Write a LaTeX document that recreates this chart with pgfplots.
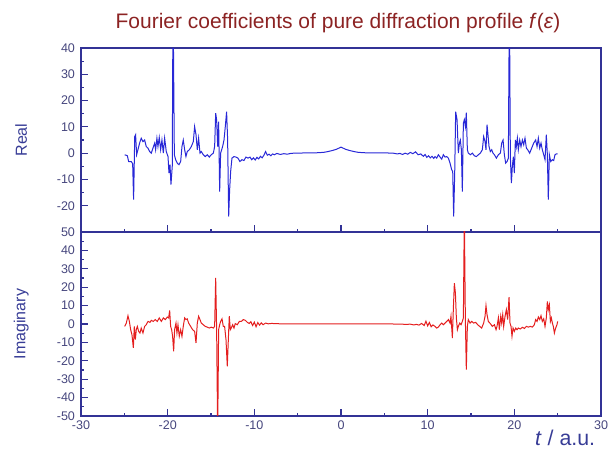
\documentclass[border=0pt]{standalone}
\usepackage{pgfplots}
\pgfplotsset{compat=1.18}
\usepackage{fontspec}
\setmainfont{Liberation Sans}
\definecolor{axcol}{RGB}{50,50,150}
\definecolor{tickcol}{RGB}{70,70,125}
\definecolor{labcol}{RGB}{55,60,150}
\definecolor{titcol}{RGB}{140,35,35}
\definecolor{bluecurve}{RGB}{40,40,215}
\definecolor{redcurve}{RGB}{228,30,30}
\begin{document}
\begin{tikzpicture}
\path[use as bounding box] (0pt,0pt) rectangle (457.5pt,345pt);
\pgfplotsset{
  panel/.style={
    scale only axis, width=390pt, height=138pt,
    xmin=-30, xmax=30,
    xtick={-30,-20,...,30}, minor x tick num=1,
    axis line style={axcol, line width=0.9pt},
    every tick/.style={axcol, line width=0.9pt},
    major tick length=5pt, minor tick length=2.6pt,
    tick align=inside,
    xtick pos=bottom, ytick pos=left,
    minor y tick num=1,
    tick label style={font=\fontsize{9.4}{11}\selectfont, text=tickcol},
    /pgf/number format/assume math mode=true,
    yticklabel style={xshift=-1pt},
    ylabel style={at={(axis description cs:-0.115,0.5)}, anchor=center, rotate=0, font=\fontsize{12}{14}\selectfont, text=labcol},
  }
}
\begin{axis}[panel, at={(60.75pt,171pt)}, anchor=south west,
  ymin=-30, ymax=40, ytick={-20,-10,...,40},
  xticklabels={},
  ylabel={Real}]
\addplot[bluecurve, line width=0.75pt] coordinates {
(-24.96,-0.6) (-24.65,-1.0) (-24.5,-3.2) (-24.2,-3.2) (-24.04,-4) (-23.93,-17.7)
(-23.8,6.3) (-23.7,7) (-23.58,-0.6) (-23.43,1.3) (-23.24,3.8) (-23.05,5.7)
(-22.85,4.4) (-22.66,5) (-22.47,2.5) (-22.27,1.9) (-22.08,0.6) (-21.89,0)
(-21.7,1.9) (-21.5,3.8) (-21.39,1.3) (-21.24,5.7) (-21.12,2.5) (-20.97,6)
(-20.81,1.3) (-20.66,5) (-20.5,0) (-20.35,5.7) (-20.16,0.6) (-19.96,-1.3)
(-19.85,-7.6) (-19.73,-4.4) (-19.62,-12) (-19.47,-5) (-19.38,60) (-19.23,-0.6)
(-19.08,-2.5) (-18.89,-3.8) (-18.7,-4.4) (-18.5,-3.2) (-18.35,2.5) (-18.2,5)
(-18.04,1.3) (-17.89,-1.3) (-17.74,0.6) (-17.5,1.3) (-17.27,2.5) (-17.04,4.4)
(-16.89,10.1) (-16.73,7) (-16.58,1.3) (-16.43,5.7) (-16.27,0) (-16.12,0.6)
(-15.89,-0.6) (-15.66,-1.3) (-15.43,-0.6) (-15.2,-1.5) (-14.97,-0.6) (-14.73,0)
(-14.58,2.5) (-14.46,15.2) (-14.35,12.7) (-14.23,2.5) (-14.12,12) (-14.0,-14.6)
(-13.89,0) (-13.77,1.3) (-13.66,2.5) (-13.5,5) (-13.35,10.1) (-13.2,15.8)
(-13.08,5) (-12.96,-24.1) (-12.85,-14) (-12.73,-6.9) (-12.58,-1.9) (-12.35,-1.3)
(-12.12,-1.5) (-11.89,-1.9) (-11.66,-3.2) (-11.43,-2.5) (-11.2,-2.8) (-10.97,-1.5)
(-10.73,-1.9) (-10.5,-1.5) (-10.3,-2.5) (-10.1,-1.8) (-9.9,-2.6) (-9.7,-1.6)
(-9.5,-2.2) (-9.3,-1.2) (-9.1,-1.8) (-8.9,-0.8) (-8.7,0.6) (-8.5,-0.8)
(-8.3,-0.4) (-8.1,-1.0) (-7.9,-0.3) (-7.7,-0.6) (-7.4,-0.1) (-7.0,-0.5)
(-6.6,-0.2) (-6.2,-0.4) (-5.8,-0.1) (-5.4,0) (-5,0) (-4,0.1) (-3,0.1)
(-2.5,0.2) (-2,0.3) (-1.5,0.6) (-1,1.0) (-0.5,1.5) (0,2.3) (0.5,1.5) (1,1.0)
(1.5,0.6) (2,0.3) (2.5,0.2) (3,0.1) (4,0.1) (5,0.1) (6,0.0) (6.5,-0.3)
(6.8,-0.1) (7.1,-0.5) (7.4,0) (7.7,-0.4) (8.0,0.3) (8.3,-0.2) (8.6,0.5)
(8.9,-0.6) (9.2,-0.3) (9.5,-1.2) (9.7,-0.5) (9.9,-1.6) (10.1,-1.0) (10.3,-1.8)
(10.5,-1.2) (10.7,-2.0)
(10.85,-1.3) (11.04,-1.9) (11.23,-0.6) (11.43,-1.5) (11.62,-2.3) (11.81,-0.6)
(12.0,-1.5) (12.2,-1.3) (12.39,-1.9) (12.58,-3.8) (12.77,-6.3) (12.89,-7)
(13.0,-24.1) (13.12,-7.6) (13.23,15.8) (13.39,12.7) (13.54,0) (13.66,3.8)
(13.77,5) (13.89,1.3) (14.0,-14.6) (14.12,11.4) (14.23,12.7) (14.35,10.1)
(14.46,15.4) (14.58,1.3) (14.69,0) (14.93,-0.6) (15.16,0) (15.39,-1)
(15.62,-1.3) (15.85,-0.6) (16.08,0) (16.31,1.3) (16.46,6.3) (16.62,4.4)
(16.73,1.3) (16.85,10.8) (16.96,7) (17.08,2.5) (17.23,0.6) (17.39,1.3)
(17.54,0) (17.7,-0.6) (17.93,-1.9) (18.16,-0.6) (18.39,0) (18.54,3.8)
(18.7,5) (18.85,-0.6) (19.0,-3.8) (19.16,-3.2) (19.31,-1.9) (19.43,60)
(19.54,-1.3) (19.66,-11.4) (19.77,-5) (19.89,-1.3) (20.0,-7.6) (20.12,5)
(20.23,2.5) (20.35,5.7) (20.46,1.3) (20.62,5) (20.77,2.5) (20.93,5)
(21.08,3.2) (21.23,5.7) (21.39,1.9) (21.54,1.3) (21.77,0) (22.0,1.9)
(22.23,3.8) (22.46,5) (22.62,2.5) (22.77,5.7) (22.93,1.9) (23.08,3.8)
(23.23,1.3) (23.39,-0.6) (23.54,-2.5) (23.69,7) (23.81,-0.6) (23.92,-17.7)
(24.04,-0.6) (24.2,-3.2) (24.39,-2.5) (24.54,-2.8) (24.69,-0.6) (24.85,-0.3)
(25.0,-0.3)
};
\end{axis}
\begin{axis}[panel, at={(60.75pt,33pt)}, anchor=south west,
  ymin=-50, ymax=50, ytick={-50,-40,...,50},
  ylabel={Imaginary},
  xlabel={\textit{t} / a.u.},
  xlabel style={at={(axis description cs:0.931,-0.117)}, anchor=center, font=\fontsize{16}{18}\selectfont, text=labcol}]
\addplot[redcurve, line width=0.75pt] coordinates {
(-24.96,-1.3) (-24.77,0.5) (-24.58,4.5) (-24.42,1.4) (-24.27,-3.1) (-24.12,-5.8)
(-23.96,-13) (-23.85,-1.3) (-23.73,-8.5) (-23.62,-3.1) (-23.5,-1.3) (-23.35,-4)
(-23.2,-4.9) (-23.05,-2.2) (-22.85,-4.9) (-22.66,-1.3) (-22.47,-0.4) (-22.27,1.4)
(-22.04,0.9) (-21.89,2) (-21.66,1.4) (-21.43,2.4) (-21.2,1.4) (-20.97,3.3)
(-20.73,1.4) (-20.5,3.3) (-20.27,2.4) (-20.04,3.8) (-19.89,3.3) (-19.77,7.4)
(-19.66,-1.3) (-19.54,-3.1) (-19.43,-6.7) (-19.31,-14.8) (-19.2,-3.1) (-19.04,0.5)
(-18.93,-4.9) (-18.81,-0.4) (-18.66,-6.7) (-18.5,-3.1) (-18.35,-6.7) (-18.2,-1.3)
(-18.04,3.3) (-17.89,2.4) (-17.74,2.8) (-17.58,0.5) (-17.35,-1.3) (-17.12,-3.1)
(-16.89,-4) (-16.73,-10.3) (-16.58,0.5) (-16.43,4.2) (-16.27,2.4) (-16.12,0.5)
(-15.89,-0.4) (-15.66,-1.3) (-15.43,-1.7) (-15.2,-2.2) (-14.97,-1.7) (-14.73,-2.2)
(-14.58,-1.3) (-14.46,25) (-14.35,-3.1) (-14.23,-60) (-14.12,-3.1) (-14.0,-0.4)
(-13.89,1.4) (-13.73,2.8) (-13.58,-1.3) (-13.43,-1.3) (-13.27,-8.5) (-13.12,-23)
(-13.0,-8.5) (-12.89,4.2) (-12.77,-3.1) (-12.66,-2.2) (-12.5,-0.4) (-12.35,-2.2)
(-12.2,0.2) (-11.97,-0.4) (-11.73,1.4) (-11.5,1.4) (-11.27,2.4) (-11.04,2)
(-10.81,0.9) (-10.6,0.3) (-10.4,1.2) (-10.2,-0.8) (-10.0,1.0) (-9.8,-1.5)
(-9.6,0.8) (-9.4,-0.6) (-9.2,0.6) (-9.0,-0.4) (-8.7,0.5) (-8.4,0.1) (-8.0,0.3)
(-7.5,0.2) (-7,0.1) (-6,0.1) (-4,0) (-2,0) (0,0) (2,0) (4,0) (6,0) (7,-0.1)
(7.5,-0.2) (8.0,-0.1) (8.4,-0.5) (8.7,-0.2) (9.0,-0.6) (9.3,0.3) (9.6,-0.8)
(9.8,1.5) (10.0,-1.0) (10.2,0.8) (10.4,-1.5) (10.6,-0.5)
(10.85,-1.3) (11.04,-2.2) (11.23,-1.7) (11.43,-0.4) (11.62,0.5) (11.81,-0.4)
(12.0,0.5) (12.2,1.4) (12.39,2.4) (12.58,0.5) (12.69,4.2) (12.85,-7.6)
(12.96,7.8) (13.08,22.2) (13.2,16.8) (13.31,3.3) (13.43,-3.1) (13.54,-1.3)
(13.7,0.5) (13.85,-0.4) (14.0,1.4) (14.12,3.3) (14.23,60) (14.35,2.4)
(14.46,-24.8) (14.58,-1.3) (14.69,2.4) (14.89,0.5) (15.08,1.4) (15.31,0.5)
(15.54,0.9) (15.77,-0.4) (16.0,-1.3) (16.23,-2.2) (16.46,0.5) (16.62,4.2)
(16.73,10) (16.85,5.1) (17.0,1.4) (17.23,0.2) (17.46,-1.3) (17.7,-0.4)
(17.89,-3.1) (18.0,-1.3) (18.16,3.3) (18.27,-3.1) (18.43,4.2) (18.54,0.5)
(18.66,5.1) (18.77,-1.3) (18.93,4.2) (19.08,7.8) (19.23,2.4) (19.39,14.6)
(19.5,0.5) (19.62,-1.3) (19.73,-6.7) (19.85,-2.2) (20.0,-4) (20.16,-2.2)
(20.31,-3.1) (20.46,-2.2) (20.69,-2.7) (20.93,-1.8) (21.16,-2.4) (21.39,-1.3)
(21.62,-1.7) (21.85,-1.3) (22.08,-1.7) (22.31,-0.4) (22.46,2.4) (22.62,1.4)
(22.77,3.8) (22.93,2.4) (23.08,4.5) (23.23,1.4) (23.39,2.8) (23.54,-1.3)
(23.69,3.3) (23.81,12.3) (23.92,7.8) (24.04,10.5) (24.16,1.4) (24.27,3.3)
(24.39,0.5) (24.5,-1.3) (24.62,-4.9) (24.77,-2.2) (24.92,-0.4) (25.0,1.4)
};
\end{axis}
\node[anchor=base, text=titcol, font=\fontsize{15.75}{18}\selectfont] at (253.5pt,323.25pt)
  {Fourier coefficients of pure diffraction profile \textit{f}(\textit{ε})};
\end{tikzpicture}
\end{document}
